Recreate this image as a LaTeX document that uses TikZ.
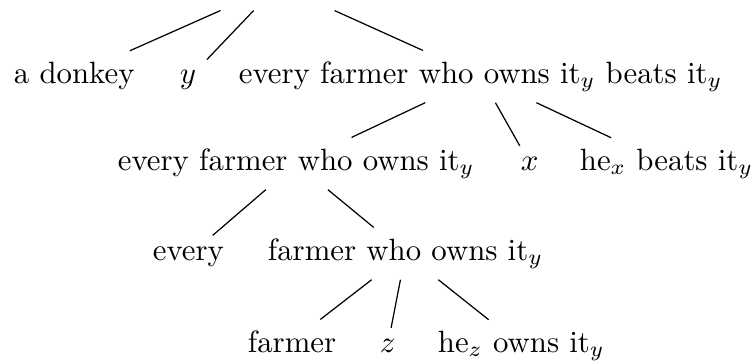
\documentclass[tikz,border=0pt]{standalone}
\begin{document}
\begin{tikzpicture}[x=0.3247pt,y=-0.3247pt,
  tn/.style={anchor=base west},
  edge/.style={draw=black,line width=0.4pt}]
\useasboundingbox (0,0) rectangle (751,360);
% root (cut off at top)
\node[inner sep=0pt,minimum width=65pt,minimum height=16.2pt] (root) at (278,-15) {};
% row 1
\node[tn] (d) at (3,83) {a donkey};
\node[tn] (y) at (169,83) {$y$};
\node[tn] (efb) at (228,83) {every farmer who owns it$_y$ beats it$_y$};
% row 2
\node[tn] (efo) at (107,170) {every farmer who owns it$_y$};
\node[tn] (x) at (510,170) {$x$};
\node[tn] (hb) at (569,170) {he$_x$ beats it$_y$};
% row 3
\node[tn] (ev) at (142,260) {every};
\node[tn] (fo) at (257,260) {farmer who owns it$_y$};
% row 4
\node[tn] (f) at (237,352) {farmer};
\node[tn] (z) at (369,352) {$z$};
\node[tn] (ho) at (427,352) {he$_z$ owns it$_y$};
% edges
\draw[edge] (root) -- (d);
\draw[edge] (root) -- (y);
\draw[edge] (root) -- (efb);
\draw[edge] (efb) -- (efo);
\draw[edge] (efb) -- (x);
\draw[edge] (efb) -- (hb);
\draw[edge] (efo) -- (ev);
\draw[edge] (efo) -- (fo);
\draw[edge] (fo) -- (f);
\draw[edge] (fo) -- (z);
\draw[edge] (fo) -- (ho);
\end{tikzpicture}
\end{document}
